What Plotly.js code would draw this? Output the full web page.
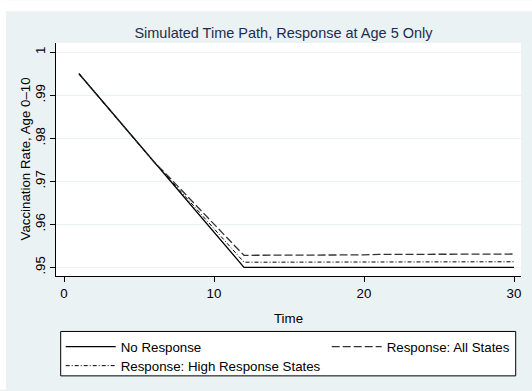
<!DOCTYPE html>
<html>
<head>
<meta charset="utf-8">
<script src="https://cdn.plot.ly/plotly-3.0.1.min.js"></script>
<style>html,body{margin:0;padding:0;background:#fff;}#chart{width:532px;height:391px;}</style>
</head>
<body>
<div id="chart"></div>
<script>
const time = [1,2,3,4,5,6,7,8,9,10,11,12,13,14,15,16,17,18,19,20,21,22,23,24,25,26,27,28,29,30];
const noResponse = [.9950,.9909,.9868,.9827,.9786,.9745,.9705,.9664,.9623,.9582,.9541,.9500,
  .9500,.9500,.9500,.9500,.9500,.9500,.9500,.9500,.9500,.9500,.9500,.9500,.9500,.9500,.9500,.9500,.9500,.9500];
const allStates = [.9950,.9909,.9868,.9827,.9786,.9745,.9710,.9673,.9637,.9601,.9564,.9528,
  .9528,.9528,.9528,.9529,.9529,.9529,.9529,.9529,.9530,.9530,.9530,.9530,.9530,.9530,.9531,.9531,.9531,.9531];
const highStates = [.9950,.9909,.9868,.9827,.9786,.9745,.9707,.9668,.9629,.9590,.9551,.9512,
  .9512,.9512,.9512,.9512,.9512,.9512,.9512,.9512,.9512,.9513,.9513,.9513,.9513,.9513,.9513,.9513,.9513,.9513];
const yTicks = [.95,.96,.97,.98,.99,1];
const yTickText = ['.95','.96','.97','.98','.99','1'];
const xTicks = [0,10,20,30];
const names = ['No Response','Response: All States','Response: High Response States'];
const yTitle = 'Vaccination Rate, Age 0–10';

const font = 'Liberation Sans, Arial, sans-serif';
const bg = '#eaf2f3';
const legFont = {family: font, size: 13.3, color: '#000'};

const traces = [
  {x: time, y: noResponse, name: names[0], mode: 'lines', legend: 'legend',
   line: {color: '#000', width: 1.3, dash: 'solid'}},
  {x: time, y: allStates, name: names[1], mode: 'lines', legend: 'legend2',
   line: {color: '#333', width: 1.3, dash: '8px,3px'}},
  {x: time, y: highStates, name: names[2], mode: 'lines', legend: 'legend3',
   line: {color: '#000', width: 1, dash: '4px,2px,1px,2px'}}
];

function leg(x, xanchor, yPx) {
  return {orientation: 'v', x: x, xanchor: xanchor, y: (277 - yPx) / 234, yanchor: 'middle',
          bgcolor: 'rgba(0,0,0,0)', borderwidth: 0, itemwidth: 50, font: legFont};
}

const layout = {
  width: 532, height: 391,
  margin: {l: 56, r: 11, t: 43, b: 114, pad: 0},
  paper_bgcolor: bg,
  plot_bgcolor: '#ffffff',
  font: {family: font, size: 13, color: '#000'},
  title: {text: 'Simulated Time Path, Response at Age 5 Only', x: 283.5/532, xanchor: 'center',
          xref: 'container', y: 1 - 33/391, yanchor: 'middle', yref: 'container',
          font: {family: font, size: 14.5, color: '#1e2d4f'}},
  xaxis: {range: [-0.533, 30.467], tickvals: xTicks, ticks: 'outside', ticklen: 5,
          tickcolor: '#000', showline: true, linecolor: '#000', linewidth: 1,
          showgrid: false, zeroline: false, tickfont: {size: 13.3},
          title: {text: 'Time', standoff: 13, font: {size: 13.3}}},
  yaxis: {range: [0.94799, 1.00215], tickvals: yTicks, ticktext: yTickText, tickangle: -90,
          ticks: 'outside', ticklen: 5, tickcolor: '#000', showline: true, linecolor: '#000',
          linewidth: 1, showgrid: true, gridcolor: bg, gridwidth: 1, zeroline: false,
          tickfont: {size: 13.3}},
  annotations: [
    {text: yTitle, xref: 'paper', yref: 'paper', x: -31/465, y: 0.5, xanchor: 'center',
     yanchor: 'middle', textangle: -90, showarrow: false, font: {family: font, size: 13.3, color: '#000'}}
  ],
  showlegend: true,
  legend: leg(0.0101, 'left', 347),
  legend2: leg(0.9886, 'right', 347),
  legend3: leg(0.0101, 'left', 366),
  shapes: [
    {type: 'rect', xref: 'paper', yref: 'paper', layer: 'below',
     x0: -56/465, x1: 476/465, y0: 1 + 32/234, y1: 1 + 43/234, fillcolor: '#ffffff', line: {width: 0}},
    {type: 'rect', xref: 'paper', yref: 'paper', layer: 'below',
     x0: -56/465, x1: -50/465, y0: -114/234, y1: 1 + 43/234, fillcolor: '#ffffff', line: {width: 0}},
    {type: 'rect', xref: 'paper', yref: 'paper', layer: 'below',
     x0: 0.0101, x1: 0.9886, y0: -0.2380, y1: -0.4286, fillcolor: '#ffffff',
     line: {color: '#000', width: 1}}
  ]
};

Plotly.newPlot('chart', traces, layout, {displayModeBar: false, staticPlot: true});
</script>
</body>
</html>
